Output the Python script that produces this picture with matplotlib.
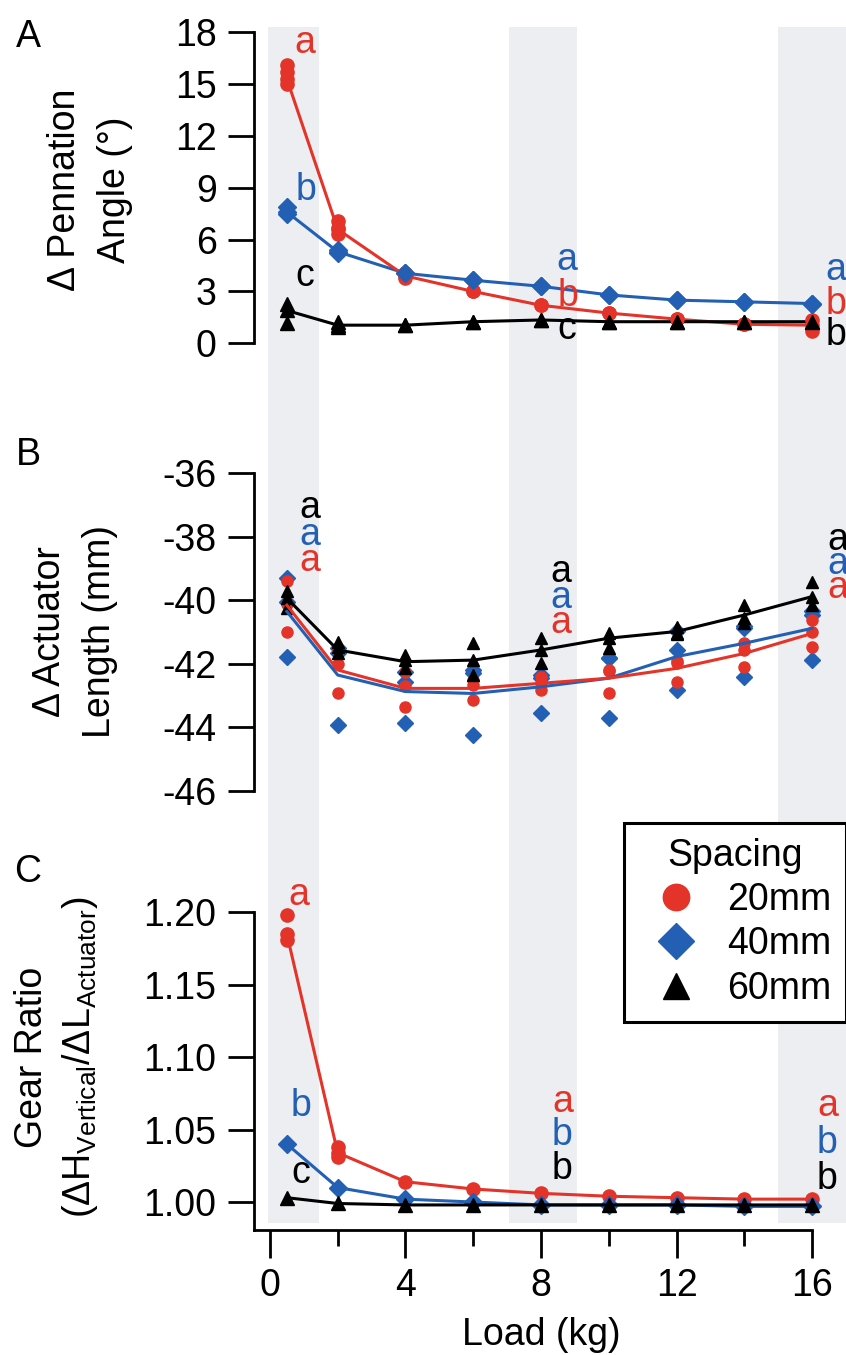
import numpy as np
import matplotlib
matplotlib.use("Agg")
import matplotlib.pyplot as plt
from matplotlib.lines import Line2D
from matplotlib.ticker import FormatStrFormatter, MultipleLocator

plt.rcParams['font.family'] = ['Liberation Sans', 'DejaVu Sans']
plt.rcParams['mathtext.fontset'] = 'custom'
plt.rcParams['mathtext.rm'] = 'Liberation Sans'
plt.rcParams['axes.unicode_minus'] = False

loads = [0.5, 2, 4, 6, 8, 10, 12, 14, 16]

# panel A: change in pennation angle (deg)
pa_20 = [15.3, 6.6, 3.9, 3.0, 2.2, 1.75, 1.4, 1.1, 1.05]
pa_40 = [7.6, 5.3, 4.05, 3.65, 3.3, 2.8, 2.5, 2.4, 2.3]
pa_60 = [1.9, 1.05, 1.05, 1.25, 1.35, 1.25, 1.25, 1.25, 1.25]
pa_20_trials = [[16.1, 15.7, 15.0], [7.1, 6.7, 6.3], [4.05, 3.8], [3.0], [2.2],
                [1.75], [1.4], [1.1], [1.35, 0.7]]
pa_40_trials = [[7.9, 7.5], [5.4, 5.2], [4.05], [3.65], [3.3], [2.8], [2.5], [2.4], [2.3]]
pa_60_trials = [[2.3, 1.15], [1.25, 0.95], [1.05], [1.25], [1.35], [1.25], [1.25], [1.25], [1.25]]

# panel B: change in actuator length (mm)
al_20 = [-40.15, -42.19, -42.77, -42.77, -42.61, -42.45, -42.14, -41.67, -41.04]
al_40 = [-40.35, -42.35, -42.87, -42.93, -42.72, -42.45, -41.77, -41.35, -40.88]
al_60 = [-39.93, -41.56, -41.93, -41.88, -41.56, -41.19, -40.98, -40.46, -39.88]
al_20_trials = [[-39.4, -40.1, -41.0], [-41.6, -42.0, -42.9], [-42.25, -42.7, -43.35],
                [-42.5, -42.66, -43.13], [-42.4, -42.61, -42.82], [-42.23, -42.19, -42.93],
                [-41.9, -41.98, -42.56], [-41.57, -41.35, -42.09], [-40.62, -40.98, -41.46]]
al_40_trials = [[-39.31, -40.04, -41.77], [-41.5, -41.67, -43.92], [-42.24, -42.56, -43.87],
                [-42.2, -42.3, -44.24], [-42.35, -42.45, -43.55], [-41.8, -41.82, -43.71],
                [-40.95, -41.56, -42.82], [-40.8, -40.88, -42.4], [-40.35, -40.46, -41.88]]
al_60_trials = [[-39.72, -39.93, -40.25], [-41.3, -41.46, -41.67], [-41.72, -41.88, -42.14],
                [-41.35, -41.88, -42.35], [-41.19, -41.55, -41.98], [-41.04, -41.19, -41.5],
                [-40.83, -41.04, -41.07], [-40.14, -40.56, -40.7], [-39.41, -39.88, -40.14]]

# panel C: gear ratio
gr_20 = [1.185, 1.034, 1.014, 1.009, 1.006, 1.004, 1.003, 1.002, 1.002]
gr_40 = [1.040, 1.010, 1.002, 1.000, 0.998, 0.998, 0.998, 0.997, 0.997]
gr_60 = [1.003, 0.999, 0.998, 0.998, 0.998, 0.998, 0.998, 0.998, 0.998]
gr_20_trials = [[1.198, 1.181], [1.038, 1.031]]

spacing_labels = ['20mm', '40mm', '60mm']
band_ranges = [(-0.05, 1.45), (7.05, 9.05), (15.0, 17.5)]

red = '#e4342a'
blue = '#2360b4'
black = '#000000'
band = '#eceef1'
FS = 27

W, H = 846, 1355
fig = plt.figure(figsize=(W / 100, H / 100), dpi=100)


def box(l, t, r, b):
    return [l / W, 1 - b / H, (r - l) / W, (b - t) / H]


xlim = (-0.47, 17.0)

bg = fig.add_axes(box(254, 27, 846, 1223))
bg.set_xlim(*xlim)
bg.axis('off')
for lo, hi in band_ranges:
    bg.axvspan(lo, hi, color=band, lw=0)

axA = fig.add_axes(box(254, 32.3, 846, 343.3))
axB = fig.add_axes(box(254, 473.3, 846, 791))
axC = fig.add_axes(box(254, 912.3, 846, 1230))

for ax in (axA, axB, axC):
    ax.set_facecolor('none')
    ax.set_xlim(*xlim)
    for s in ('top', 'right'):
        ax.spines[s].set_visible(False)
    ax.spines['left'].set_linewidth(2)
    ax.tick_params(axis='y', direction='out', length=19, width=2,
                   labelsize=FS, pad=8)

for ax in (axA, axB):
    ax.spines['bottom'].set_visible(False)
    ax.set_xticks([])

lw = 2.2
ms_line = {'o': 9.5, 'D': 9, '^': 10}
ms_pts = {'o': 8, 'D': 8.5, '^': 9}


def trial_points(ax, trials, marker, color, sizes):
    for x, vals in zip(loads, trials):
        ax.plot([x] * len(vals), vals, ls='none', marker=marker, color=color,
                ms=sizes[marker], mec=color, clip_on=False, zorder=4)


# A
axA.plot(loads, pa_40, color=blue, lw=lw, marker='D', ms=ms_line['D'], zorder=3)
axA.plot(loads, pa_20, color=red, lw=lw, marker='o', ms=ms_line['o'], zorder=3)
axA.plot(loads, pa_60, color=black, lw=lw, marker='^', ms=ms_line['^'], zorder=3)
trial_points(axA, pa_20_trials, 'o', red, ms_line)
trial_points(axA, pa_40_trials, 'D', blue, ms_line)
trial_points(axA, pa_60_trials, '^', black, ms_line)
axA.set_ylim(0, 18)
axA.yaxis.set_major_locator(MultipleLocator(3))

# B
trial_points(axB, al_40_trials, 'D', blue, ms_pts)
trial_points(axB, al_20_trials, 'o', red, ms_pts)
trial_points(axB, al_60_trials, '^', black, ms_pts)
axB.plot(loads, al_40, color=blue, lw=lw, zorder=5)
axB.plot(loads, al_20, color=red, lw=lw, zorder=5)
axB.plot(loads, al_60, color=black, lw=lw, zorder=5)
axB.set_ylim(-46, -36)
axB.set_yticks(np.arange(-46, -35, 2))

# C
axC.plot(loads, gr_20, color=red, lw=lw, marker='o', ms=ms_line['o'], zorder=3)
axC.plot(loads, gr_40, color=blue, lw=lw, marker='D', ms=ms_line['D'], zorder=3)
axC.plot(loads, gr_60, color=black, lw=lw, marker='^', ms=ms_line['^'], zorder=3)
trial_points(axC, gr_20_trials, 'o', red, ms_line)
axC.set_ylim(0.9807, 1.20)
axC.set_yticks([1.00, 1.05, 1.10, 1.15, 1.20])
axC.yaxis.set_major_formatter(FormatStrFormatter('%.2f'))
axC.spines['left'].set_bounds(0.9807, 1.20)
axC.spines['bottom'].set_bounds(xlim[0], 16)
axC.spines['bottom'].set_linewidth(2)
axC.set_xticks([0, 4, 8, 12, 16])
axC.set_xticks([2, 6, 10, 14], minor=True)
axC.tick_params(axis='x', which='major', direction='out', length=20, width=2,
                labelsize=FS, pad=7)
axC.tick_params(axis='x', which='minor', direction='out', length=11.5, width=2)

# significance letters
letters_A = [(1.03, 17.4, 'a', red), (1.08, 8.9, 'b', blue), (1.03, 3.9, 'c', black),
             (8.75, 4.8, 'a', blue), (8.8, 2.75, 'b', red), (8.75, 0.85, 'c', black),
             (16.7, 4.25, 'a', blue), (16.7, 2.3, 'b', red), (16.7, 0.5, 'b', black)]
letters_B = [(1.19, -37.1, 'a', black), (1.19, -37.95, 'a', blue), (1.19, -38.75, 'a', red),
             (8.58, -39.1, 'a', black), (8.58, -39.93, 'a', blue), (8.58, -40.72, 'a', red),
             (16.75, -38.1, 'a', black), (16.75, -38.85, 'a', blue), (16.75, -39.6, 'a', red)]
letters_C = [(0.86, 1.212, 'a', red), (0.92, 1.066, 'b', blue), (0.9, 1.020, 'c', black),
             (8.63, 1.069, 'a', red), (8.63, 1.046, 'b', blue), (8.63, 1.023, 'b', black),
             (16.45, 1.066, 'a', red), (16.45, 1.041, 'b', blue), (16.45, 1.016, 'b', black)]
for ax, letters in ((axA, letters_A), (axB, letters_B), (axC, letters_C)):
    for x, y, s, c in letters:
        ax.text(x, y, s, color=c, fontsize=FS, ha='center', va='center', zorder=6)

# legend
handles = [Line2D([], [], ls='none', marker='o', color=red, ms=19),
           Line2D([], [], ls='none', marker='D', color=blue, ms=18),
           Line2D([], [], ls='none', marker='^', color=black, ms=19)]
leg = axC.legend(handles, spacing_labels, title='Spacing', loc='upper right',
                 bbox_to_anchor=(1.0, 1 - 823 / H), bbox_transform=fig.transFigure,
                 fontsize=FS, title_fontsize=FS, frameon=True, fancybox=False,
                 framealpha=1, edgecolor='black', borderaxespad=0,
                 handletextpad=0.35, labelspacing=0.22, borderpad=0.4,
                 handlelength=2.0)
leg.get_frame().set_linewidth(2.2)
leg.set_zorder(10)

# axis labels and panel letters
fig.text(90 / W, 1 - 190 / H, 'Δ Pennation\nAngle (°)', rotation=90, ha='center',
         va='center', fontsize=FS, multialignment='center', linespacing=1.5)
fig.text(75 / W, 1 - 632 / H, 'Δ Actuator\nLength (mm)', rotation=90, ha='center',
         va='center', fontsize=FS, multialignment='center', linespacing=1.5)
fig.text(57 / W, 1 - 1057 / H,
         'Gear Ratio\n(ΔH$_{\\mathrm{Vertical}}$/ΔL$_{\\mathrm{Actuator}}$)',
         rotation=90, ha='center', va='center', fontsize=FS, multialignment='center',
         linespacing=1.35)
fig.text(541 / W, 1 - 1335 / H, 'Load (kg)', ha='center', va='center', fontsize=FS)
for lab, y in (('A', 37), ('B', 455), ('C', 872)):
    fig.text(28 / W, 1 - y / H, lab, ha='center', va='center', fontsize=FS)

fig.savefig('out.png', dpi=100)
